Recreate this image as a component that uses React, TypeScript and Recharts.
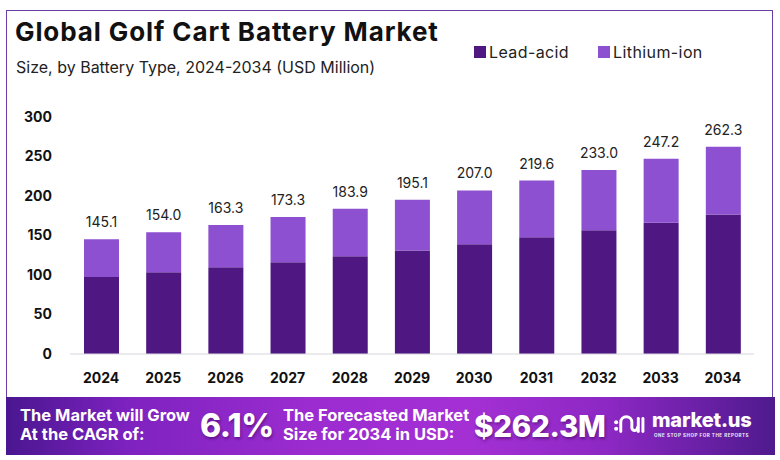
import React from 'react';
import { BarChart, Bar, XAxis, YAxis, LabelList } from 'recharts';

const years = ['2024', '2025', '2026', '2027', '2028', '2029', '2030', '2031', '2032', '2033', '2034'];
const leadAcid = [97.6, 103.4, 109.8, 116.1, 123.7, 130.9, 138.9, 147.8, 156.7, 166.0, 176.5];
const lithiumIon = [47.5, 50.6, 53.5, 57.2, 60.2, 64.2, 68.1, 71.8, 76.3, 81.2, 85.8];
const totals = [145.1, 154.0, 163.3, 173.3, 183.9, 195.1, 207.0, 219.6, 233.0, 247.2, 262.3];
const yTicks = [0, 50, 100, 150, 200, 250, 300];
const seriesNames = ['Lead-acid', 'Lithium-ion'];
const seriesColors = ['#4f1782', '#8c50d0'];

const data = years.map((y, i) => ({
  year: y,
  lead: leadAcid[i],
  lithium: lithiumIon[i],
  total: totals[i],
}));

const FONT = "Inter, 'Noto Sans', 'DejaVu Sans', sans-serif";

const LegendBlock = () => (
  <div
    style={{
      position: 'absolute',
      left: 474,
      top: 42,
      display: 'flex',
      alignItems: 'center',
      fontFamily: FONT,
      fontSize: 16,
      letterSpacing: 0.4,
      color: '#222',
      whiteSpace: 'nowrap',
    }}
  >
    {seriesNames.map((n, i) => (
      <div key={n} style={{ display: 'flex', alignItems: 'center', marginRight: i === 0 ? 29 : 0 }}>
        <div style={{ width: 12, height: 12, background: seriesColors[i], marginRight: 3 }} />
        <span>{n}</span>
      </div>
    ))}
  </div>
);

export default function App() {
  return (
    <div
      style={{
        position: 'fixed',
        left: 0,
        top: 0,
        width: 780,
        height: 460,
        background: '#fff',
        overflow: 'hidden',
        fontFamily: FONT,
      }}
    >
      <div
        style={{
          position: 'absolute',
          left: 6,
          top: 10,
          width: 767,
          height: 390,
          border: '1.5px solid #6a3ea6',
          boxSizing: 'border-box',
        }}
      />
      <div
        style={{
          position: 'absolute',
          left: 15,
          top: 16,
          fontSize: 26,
          fontWeight: 700,
          color: '#111',
          letterSpacing: 0.9,
          whiteSpace: 'nowrap',
        }}
      >
        Global Golf Cart Battery Market
      </div>
      <div
        style={{
          position: 'absolute',
          left: 16,
          top: 57,
          fontSize: 16,
          color: '#222',
          whiteSpace: 'nowrap',
        }}
      >
        Size, by Battery Type, 2024-2034 (USD Million)
      </div>

      <LegendBlock />

      <div style={{ position: 'absolute', left: 0, top: 0 }}>
        <BarChart
          width={780}
          height={460}
          data={data}
          margin={{ top: 117, right: 26, bottom: 76, left: 0 }}
          barSize={35}
        >
          <XAxis
            dataKey="year"
            height={30}
            tickLine={false}
            tickSize={0}
            tickMargin={19}
            axisLine={{ stroke: '#d6d6de', strokeWidth: 1 }}
            tick={{ fill: '#111', fontSize: 14, fontWeight: 700, fontFamily: FONT }}
            interval={0}
          />
          <YAxis
            width={70}
            domain={[0, 300]}
            ticks={yTicks}
            axisLine={false}
            tickLine={false}
            tickSize={0}
            tickMargin={18}
            tick={{ fill: '#111', fontSize: 14, fontWeight: 700, fontFamily: FONT }}
          />
          <Bar dataKey="lead" name={seriesNames[0]} stackId="a" fill={seriesColors[0]} isAnimationActive={false} />
          <Bar dataKey="lithium" name={seriesNames[1]} stackId="a" fill={seriesColors[1]} isAnimationActive={false}>
            <LabelList
              dataKey="total"
              position="top"
              offset={12}
              formatter={(v: number) => Number(v).toFixed(1)}
              style={{ fill: '#222', fontSize: 14, fontFamily: FONT }}
            />
          </Bar>
        </BarChart>
      </div>

      <div
        style={{
          position: 'absolute',
          left: 6,
          top: 397,
          width: 769,
          height: 58,
          background:
            'linear-gradient(90deg, #4a1690 0%, #7e22c0 16%, #9c2cd0 40%, #a430d4 60%, #8d28c4 78%, #4f1a8e 100%)',
          color: '#fff',
        }}
      >
        <div
          style={{
            position: 'absolute',
            left: 14,
            top: 9,
            fontSize: 16.5,
            fontWeight: 700,
            lineHeight: '19px',
            whiteSpace: 'nowrap',
          }}
        >
          The Market will Grow
          <br />
          At the CAGR of:
        </div>
        <div
          style={{
            position: 'absolute',
            left: 194,
            top: 9,
            fontSize: 32,
            fontWeight: 800,
            lineHeight: '40px',
            letterSpacing: -0.5,
            textShadow: '1px 2px 3px rgba(40,0,60,0.45)',
          }}
        >
          6.1%
        </div>
        <div
          style={{
            position: 'absolute',
            left: 277,
            top: 9,
            fontSize: 16.5,
            fontWeight: 700,
            lineHeight: '19px',
            whiteSpace: 'nowrap',
          }}
        >
          The Forecasted Market
          <br />
          Size for 2034 in USD:
        </div>
        <div
          style={{
            position: 'absolute',
            left: 468,
            top: 10,
            fontSize: 29.5,
            fontWeight: 800,
            lineHeight: '38px',
            letterSpacing: -0.3,
            textShadow: '1px 2px 3px rgba(40,0,60,0.45)',
            whiteSpace: 'nowrap',
          }}
        >
          $262.3M
        </div>
        <svg style={{ position: 'absolute', left: 607, top: 16 }} width={34} height={24} viewBox="0 0 36 26">
          <circle cx={3} cy={10} r={2.2} fill="#fff" />
          <circle cx={3} cy={17} r={2.2} fill="#fff" />
          <path d="M8 20 V10 a6 6 0 0 1 12 0 V16 a3 3 0 0 0 6 0" stroke="#fff" strokeWidth={3.2} fill="none" strokeLinecap="round" />
          <path d="M27 6 V20" stroke="#fff" strokeWidth={3.2} strokeLinecap="round" />
          <path d="M32 6 V20" stroke="#fff" strokeWidth={3.2} strokeLinecap="round" />
        </svg>
        <div
          style={{
            position: 'absolute',
            left: 646,
            top: 11,
            fontSize: 20,
            fontWeight: 800,
            lineHeight: '24px',
            letterSpacing: -0.2,
            whiteSpace: 'nowrap',
          }}
        >
          market.us
        </div>
        <div
          style={{
            position: 'absolute',
            left: 648,
            top: 36,
            fontSize: 4.6,
            fontWeight: 700,
            letterSpacing: 0.5,
            whiteSpace: 'nowrap',
            opacity: 0.9,
          }}
        >
          ONE STOP SHOP FOR THE REPORTS
        </div>
      </div>
    </div>
  );
}
